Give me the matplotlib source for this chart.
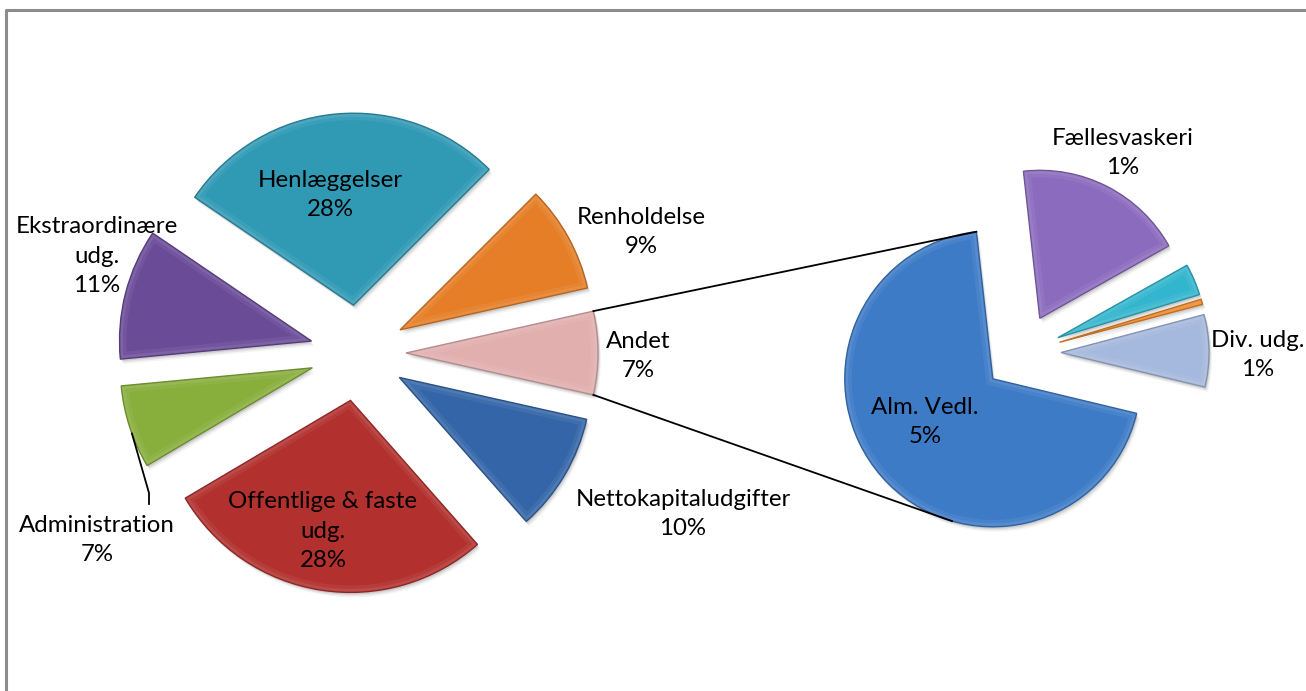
import numpy as np
import matplotlib.pyplot as plt
from matplotlib.colors import to_rgb
from matplotlib.patches import Wedge

W, H = 1306, 691

# main pie (counterclockwise, starting with the split slice)
main_labels = ['Andet', 'Renholdelse', 'Henlæggelser', 'Ekstraordinære\nudg.',
               'Administration', 'Offentlige & faste\nudg.', 'Nettokapitaludgifter']
main_values = [7, 9, 28, 11, 7, 28, 10]
main_colors = ['#E2AFAF', '#E57E26', '#309AB5', '#6A4B98', '#88AE3B', '#B2302E', '#3465A8']

# secondary pie, breakdown of "Andet"
sub_labels = ['Div. udg.', '', '', 'Fællesvaskeri', 'Alm. Vedl.']
sub_values = [0.55, 0.04, 0.24, 1.30, 4.85]
sub_colors = ['#A5B8DD', '#EF8A2A', '#32B5CE', '#8B6BBE', '#3D7BC7']

# label centres in pixels (x, y from top)
main_label_px = [(638, 356), (641, 232), (330, 195), (97, 256), (97, 540), (323, 531), (683, 514)]
sub_label_px = [(1258, 355), None, None, (1123, 153), (925, 422)]

plt.rcParams['font.family'] = ['Lato', 'DejaVu Sans']

fig = plt.figure(figsize=(W / 100, H / 100), dpi=100)
ax = fig.add_axes([0, 0, 1, 1])


def darker(c, f=0.7):
    r, g, b = to_rgb(c)
    return (r * f, g * f, b * f)


def pct(v, total):
    return '%d%%' % round(v / total * 100)


# explode in matplotlib is an absolute offset (same units as radius)
total = sum(main_values)
main_angle0 = -main_values[0] / total * 360 / 2
wm, _ = ax.pie(main_values, colors=main_colors, startangle=main_angle0,
               radius=192, center=(358, H - 353), explode=[48] * len(main_values),
               wedgeprops=dict(linewidth=0))

ws, _ = ax.pie(sub_values, colors=sub_colors, startangle=-13.5,
               radius=148, center=(1022, H - 353), explode=[39] * len(sub_values),
               wedgeprops=dict(linewidth=0))

# soft shadow, bevel highlight and dark rim to mimic the Excel 3D look
for w, c in zip(list(wm) + list(ws), main_colors + sub_colors):
    w.set_zorder(2)
    cx, cy = w.center
    for k, a in [(5, 0.04), (3.5, 0.07), (2, 0.10)]:
        ax.add_patch(Wedge((cx + k * 0.6, cy - k), w.r, w.theta1, w.theta2,
                           facecolor='black', alpha=a, lw=0, zorder=1))
    for lw, a in [(10, 0.06), (5, 0.08)]:
        hi = Wedge((cx, cy), w.r, w.theta1, w.theta2, facecolor='none',
                   edgecolor='white', lw=lw, alpha=a, zorder=3)
        ax.add_patch(hi)
        hi.set_clip_path(w)
    ax.add_patch(Wedge((cx, cy), w.r, w.theta1, w.theta2, facecolor='none',
                       edgecolor=darker(c, 0.8), lw=1.0, zorder=4))

txt = dict(fontsize=17.3, ha='center', va='center', color='black', linespacing=1.5, zorder=6)
for lab, v, p in zip(main_labels, main_values, main_label_px):
    ax.text(p[0], H - p[1], lab + '\n' + pct(v, total), **txt)
for lab, v, p in zip(sub_labels, sub_values, sub_label_px):
    if p is None:
        continue
    ax.text(p[0], H - p[1], lab + '\n' + pct(v, total), **txt)


def arc_pt(w, ang):
    a = np.deg2rad(ang)
    return w.center[0] + w.r * np.cos(a), w.center[1] + w.r * np.sin(a)


# connector lines between the split slice and the second pie
andet, alm = wm[0], ws[-1]
p1 = arc_pt(andet, andet.theta2)
p2 = arc_pt(alm, alm.theta1)
ax.plot([p1[0], p2[0]], [p1[1], p2[1]], color='black', lw=1.3, zorder=5)
p1 = arc_pt(andet, andet.theta1)
p2 = arc_pt(alm, 254)
ax.plot([p1[0], p2[0]], [p1[1], p2[1]], color='black', lw=1.3, zorder=5)

# leader line for Administration
adm = wm[4]
q = arc_pt(adm, (adm.theta1 + adm.theta2) / 2 + 2)
lx, ly = main_label_px[4][0] + 52, H - main_label_px[4][1] + 36
ax.plot([q[0], lx, lx], [q[1], ly + 11, ly], color='black', lw=1.3, zorder=5)

# chart frame (only top and left edges fall inside the picture)
ax.plot([5.5, 5.5, W + 5], [-5, H - 9.5, H - 9.5], color='#8C8C8C', lw=2.2, clip_on=False)

ax.set_xlim(0, W)
ax.set_ylim(0, H)
ax.set_aspect('equal')
ax.axis('off')

fig.savefig('out.png', dpi=100, facecolor='white')
